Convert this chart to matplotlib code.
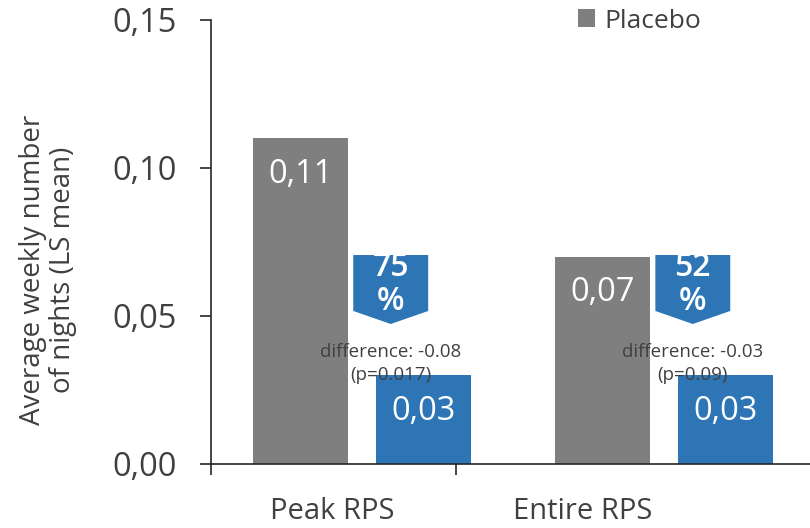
import matplotlib
matplotlib.use("Agg")
import matplotlib.pyplot as plt
from matplotlib.patches import Polygon
from matplotlib.ticker import FuncFormatter

plt.rcParams['font.family'] = ['Open Sans', 'DejaVu Sans']

# data
groups = ['Peak RPS', 'Entire RPS']
placebo = [0.11, 0.07]
active = [0.03, 0.03]
reduction_pct = [75, 52]
difference = ['-0.08', '-0.03']
p_values = ['0.017', '0.09']

GRAY = '#7f7f7f'
BLUE = '#2e75b6'
TXT = '#404040'

fig = plt.figure(figsize=(8.1, 5.28), dpi=100)
ax = fig.add_axes([211 / 810, 64 / 528, 599 / 810, 444 / 528])

x = list(range(len(groups)))
w = 0.315
off = 0.203
bp = ax.bar([i - off for i in x], placebo, w, color=GRAY, label='Placebo')
ba = ax.bar([i + off for i in x], active, w, color=BLUE)

for bars in (bp, ba):
    for b in bars:
        ax.annotate(f'{b.get_height():.2f}'.replace('.', ','),
                    (b.get_x() + b.get_width() / 2, b.get_height()),
                    xytext=(0, -36), textcoords='offset pixels',
                    ha='center', va='center', color='white', fontsize=23.5)

# reduction arrows + difference text
for i, pct, d, p in zip(x, reduction_pct, difference, p_values):
    cx = i + 0.095
    hw = 0.124
    top, shoulder, tip = 0.0706, 0.0517, 0.0473
    poly = Polygon([(cx - hw, top), (cx + hw, top), (cx + hw, shoulder),
                    (cx, tip), (cx - hw, shoulder)], closed=True,
                   facecolor=BLUE, edgecolor='none', zorder=3)
    ax.add_patch(poly)
    t = ax.text(cx, 0.0606, f'{pct}\n%', ha='center', va='center',
                color='white', fontsize=23, fontweight='semibold',
                linespacing=1.05, zorder=4)
    t.set_clip_path(poly)
    ax.text(cx, 0.0340, f'difference: {d}\n(p={p})', ha='center',
            va='center', color=TXT, fontsize=13.5, linespacing=1.35, zorder=5)

ax.set_xlim(-0.5, 1.483)
ax.set_ylim(0, 0.15)
ax.set_yticks([0, 0.05, 0.10, 0.15])
ax.yaxis.set_major_formatter(FuncFormatter(lambda v, _: f'{v:.2f}'.replace('.', ',')))

label_pos = [-0.1, 0.73]
ax.set_xticks(label_pos)
ax.set_xticklabels(groups)
ax.set_xticks([-0.5, 0.311], minor=True)
ax.tick_params(axis='x', which='major', length=0, pad=24, labelsize=21,
               labelcolor=TXT)
ax.tick_params(axis='x', which='minor', length=8, width=1.2, direction='out',
               color='#262626')
ax.tick_params(axis='y', length=8, width=1.2, pad=17, labelsize=23.5,
               labelcolor=TXT, color='#262626')

for s in ('top', 'right'):
    ax.spines[s].set_visible(False)
for s in ('left', 'bottom'):
    ax.spines[s].set_color('#262626')
    ax.spines[s].set_linewidth(1.2)
ax.spines['bottom'].set_clip_on(False)

fig.text(48 / 810, 1 - 270 / 528, 'Average weekly number\nof nights (LS mean)',
         rotation=90, ha='center', va='center', fontsize=20, color=TXT,
         linespacing=1.1)

leg = ax.legend(handles=[bp], loc='center left', bbox_to_anchor=(578 / 810, 1 - 21 / 528),
                bbox_transform=fig.transFigure, frameon=False, fontsize=19,
                handlelength=0.65, handleheight=0.65, handletextpad=0.35,
                borderpad=0, borderaxespad=0)
for tx in leg.get_texts():
    tx.set_color(TXT)

fig.savefig('out.png', dpi=100)
